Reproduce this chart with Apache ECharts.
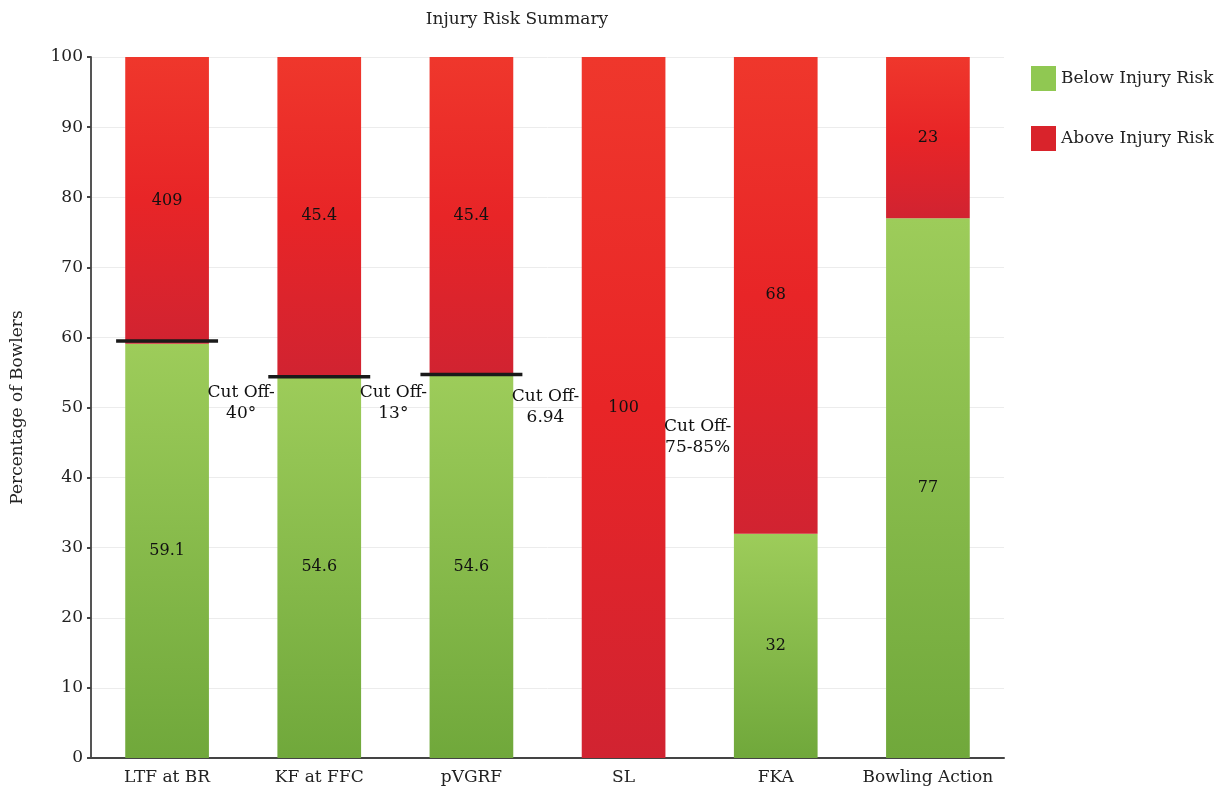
<!DOCTYPE html>
<html><head><meta charset="utf-8">
<script src="https://cdn.jsdelivr.net/npm/echarts@6/dist/echarts.min.js"></script>
<style>html,body{margin:0;padding:0;background:#fff}#c{width:1226px;height:792px}</style>
</head><body><div id="c"></div>
<script>
const categories = ['LTF at BR', 'KF at FFC', 'pVGRF', 'SL', 'FKA', 'Bowling Action'];
const belowRisk = [59.1, 54.6, 54.6, 0, 32, 77];
const aboveRisk = [40.9, 45.4, 45.4, 100, 68, 23];
const aboveLabels = ['409', '45.4', '45.4', '100', '68', '23'];
const cutoffCats = [0, 1, 2];
const cutoffValues = [59.5, 54.4, 54.7];
const annotationCats = [0, 1, 2, 3];
const annotationValues = [50.6, 50.6, 50, 45.8];
const annotationTexts = ['Cut Off-\n40°', 'Cut Off-\n13°', 'Cut Off-\n6.94', 'Cut Off-\n75-85%'];
const yTicks = [0, 10, 20, 30, 40, 50, 60, 70, 80, 90, 100];

const FONT = 'DejaVu Serif';
const chart = echarts.init(document.getElementById('c'));
const greenGrad = new echarts.graphic.LinearGradient(0, 0, 0, 1, [
  {offset: 0, color: '#9dcc5a'}, {offset: 1, color: '#70a83b'}]);
const redGrad = new echarts.graphic.LinearGradient(0, 0, 0, 1, [
  {offset: 0, color: '#ef372c'}, {offset: 0.5, color: '#e82527'}, {offset: 1, color: '#d12331'}]);

chart.setOption({
  animation: false,
  textStyle: {fontFamily: FONT},
  title: {text: 'Injury Risk Summary', left: 512, top: 6, textAlign: 'center',
    textStyle: {fontFamily: FONT, fontWeight: 'normal', fontSize: 17, color: '#222'}},
  legend: {orient: 'vertical', left: 1031, top: 66, padding: 0, itemWidth: 25, itemHeight: 25, itemGap: 35,
    icon: 'rect',
    textStyle: {fontFamily: FONT, fontSize: 17, color: '#222'},
    data: [{name: 'Below Injury Risk', itemStyle: {color: '#90c852'}},
           {name: 'Above Injury Risk', itemStyle: {color: '#d9232b'}}]},
  grid: {left: 91, right: 222, top: 57, bottom: 34, containLabel: false, outerBoundsMode: 'none'},
  xAxis: {type: 'category', data: categories,
    axisLine: {lineStyle: {color: '#444', width: 2}},
    axisTick: {show: false},
    axisLabel: {color: '#222', fontSize: 17, margin: 11, fontFamily: FONT, interval: 0, hideOverlap: false}},
  yAxis: {type: 'value', min: 0, max: 100, interval: 10,
    name: 'Percentage of Bowlers', nameLocation: 'middle', nameGap: 65,
    nameTextStyle: {fontFamily: FONT, fontSize: 17, color: '#222'},
    axisLine: {show: true, lineStyle: {color: '#555', width: 2}},
    axisTick: {show: true, length: 4, lineStyle: {color: '#444', width: 2}},
    axisLabel: {color: '#222', fontSize: 17, margin: 8, fontFamily: FONT,
      formatter: v => yTicks.includes(v) ? String(v) : ''},
    splitLine: {lineStyle: {color: '#ececec'}}},
  series: [
    {name: 'Below Injury Risk', type: 'bar', stack: 's', barWidth: '55%',
     data: belowRisk, itemStyle: {color: greenGrad},
     label: {show: true, position: 'inside', color: '#111', fontSize: 16, fontFamily: FONT,
       formatter: p => p.value ? String(p.value) : ''}},
    {name: 'Above Injury Risk', type: 'bar', stack: 's', barWidth: '55%',
     data: aboveRisk, itemStyle: {color: redGrad},
     label: {show: true, position: 'inside', color: '#111', fontSize: 16, fontFamily: FONT,
       formatter: p => aboveLabels[p.dataIndex]}},
    {name: 'cutoff', type: 'custom', z: 10, silent: true,
     data: cutoffCats.map((c, i) => [c, cutoffValues[i]]),
     renderItem: (params, api) => {
       const p = api.coord([api.value(0), api.value(1)]);
       const band = api.size([1, 0])[0];
       const half = band * 0.335;
       return {type: 'line', shape: {x1: p[0] - half, y1: p[1], x2: p[0] + half, y2: p[1]},
         style: {stroke: '#1a1a1a', lineWidth: 3.5}};
     }},
    {name: 'annot', type: 'custom', z: 11, silent: true,
     data: annotationCats.map((c, i) => [c, annotationValues[i], i]),
     renderItem: (params, api) => {
       const p = api.coord([api.value(0), api.value(1)]);
       const band = api.size([1, 0])[0];
       return {type: 'text', x: p[0] + band / 2 - 2, y: p[1],
         style: {text: annotationTexts[api.value(2)], fill: '#111', font: '17px ' + FONT,
           align: 'center', verticalAlign: 'middle', lineHeight: 21}};
     }}
  ]
});
</script></body></html>
